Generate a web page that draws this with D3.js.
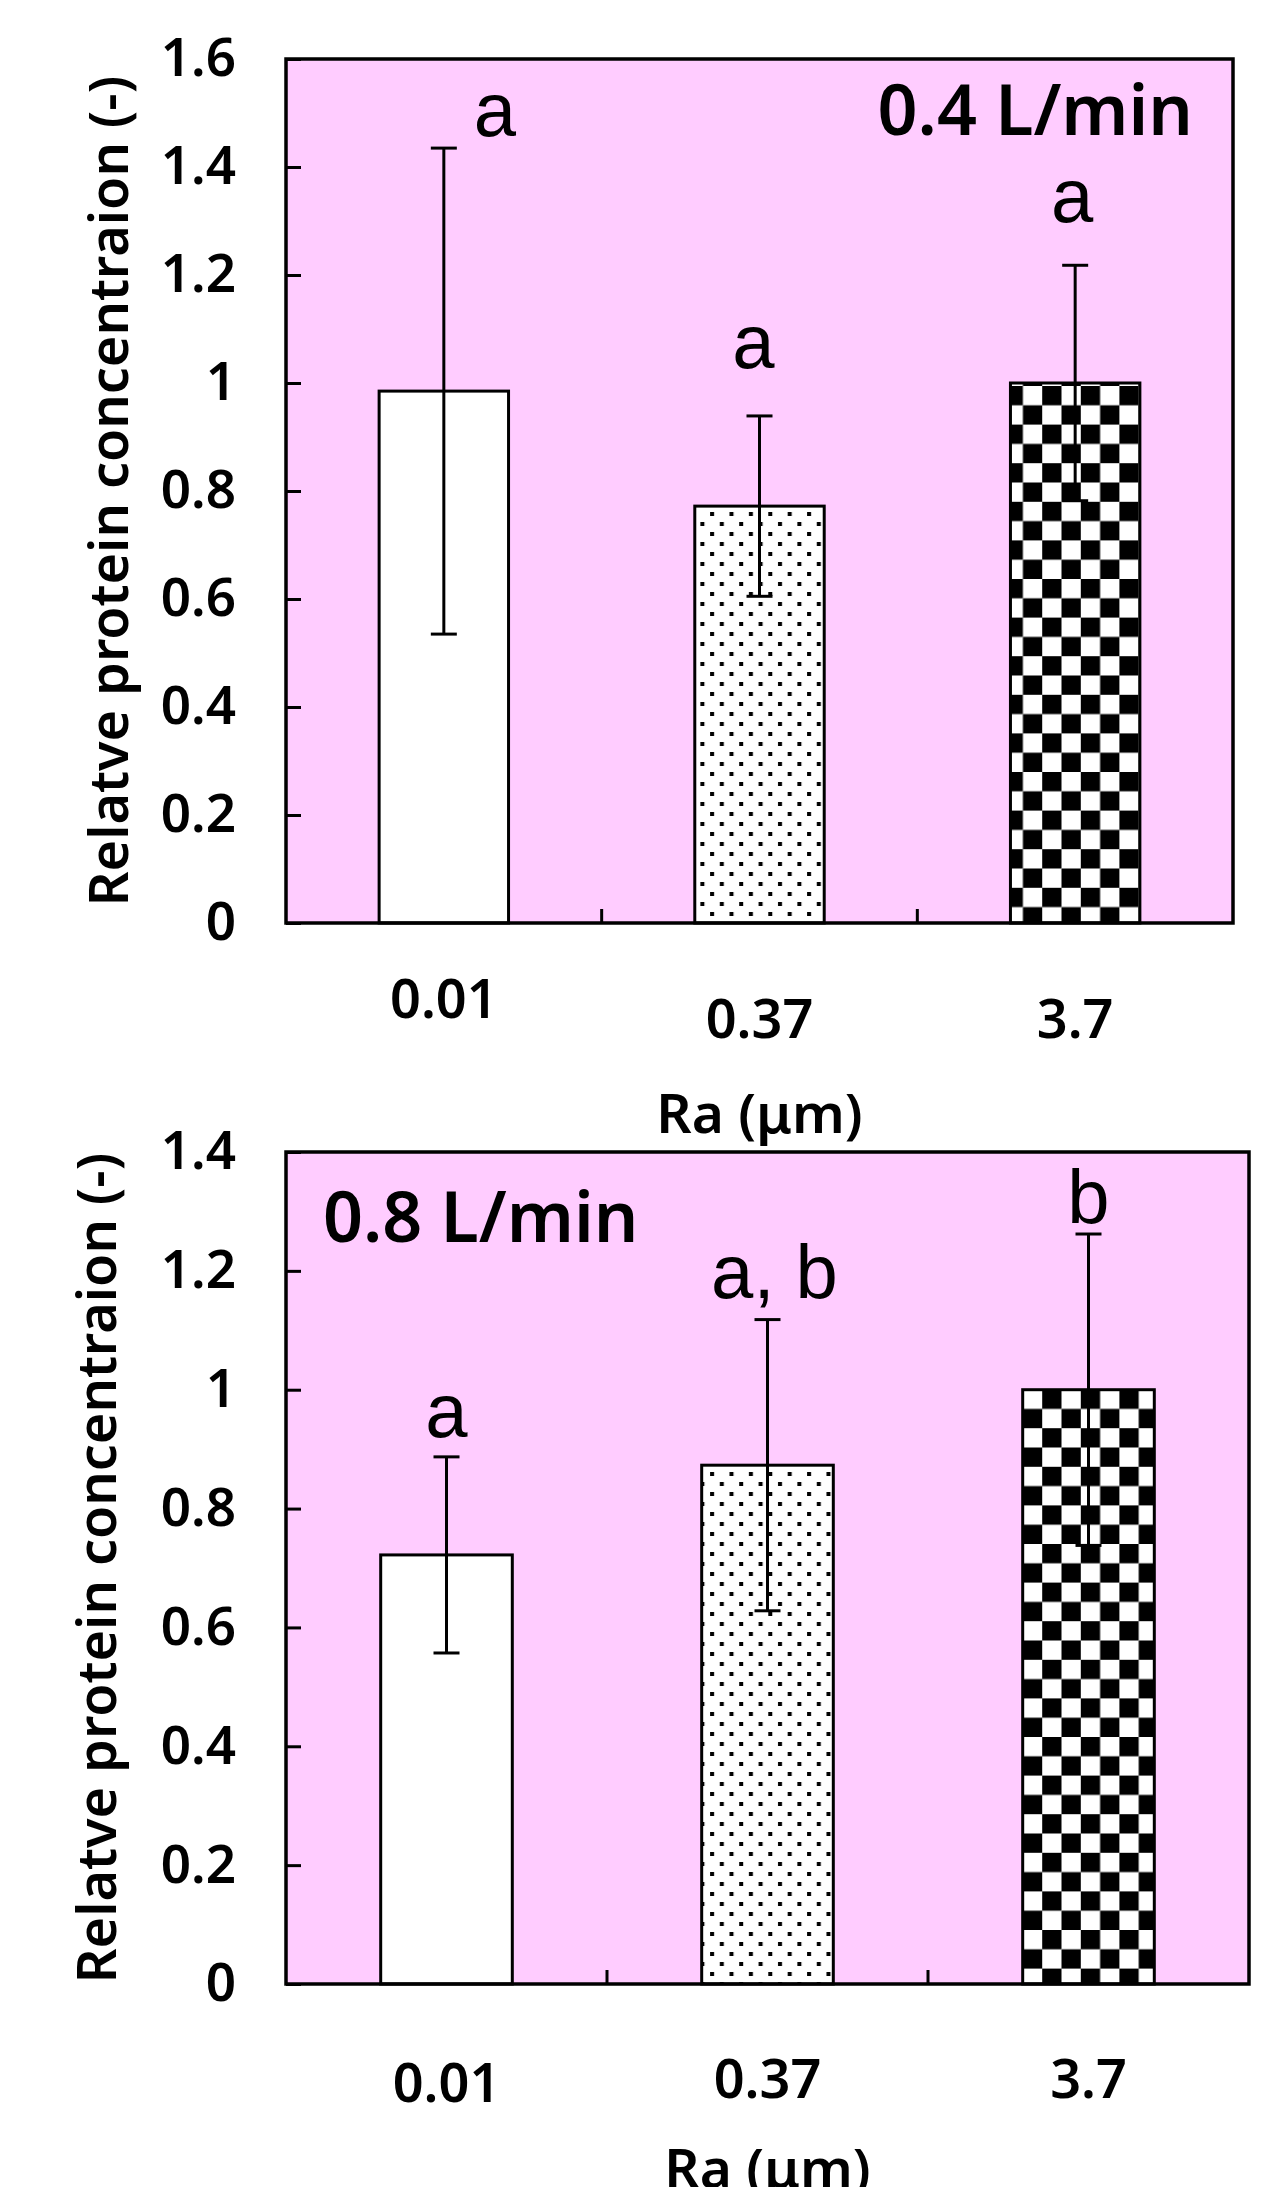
<!DOCTYPE html>
<html lang="en">
<head>
  <meta charset="UTF-8">
  <title>Relative protein concentration</title>
  <script src="https://cdn.jsdelivr.net/npm/d3@7"></script>
  <style>
    body { margin: 0; background: white; }
    svg { display: block; }
    .tick text { font-family: "Noto Sans", "Noto Sans CJK JP", sans-serif; font-weight: 600; }
  </style>
</head>
<body>
  <div id="chart"></div>
  <script>
    // data
    const categories = ["0.01", "0.37", "3.7"]
    const fills = ["white", "url(#dots)", "url(#checker)"]

    const means04 = [0.985, 0.772, 1.0]
    const errs04 = [0.45, 0.167, 0.218]
    const letters04 = ["a", "a", "a"]
    const letterAt04 = [1.457, 1.028, 1.298]
    const yTicks04 = [0, 0.2, 0.4, 0.6, 0.8, 1, 1.2, 1.4, 1.6]

    const means08 = [0.722, 0.873, 1.0]
    const errs08 = [0.165, 0.245, 0.262]
    const letters08 = ["a", "a, b", "b"]
    const letterAt08 = [0.92, 1.154, 1.281]
    const yTicks08 = [0, 0.2, 0.4, 0.6, 0.8, 1, 1.2, 1.4]

    const width = 1261
    const height = 2187
    const sans = '"Noto Sans", "Noto Sans CJK JP", sans-serif'
    const latin = '"Liberation Sans", Arial, sans-serif'
    const pink = '#ffccff'

    const svg = d3.select('#chart')
      .append('svg')
      .attr('width', width)
      .attr('height', height)

    svg.append('rect')
      .attr('width', width)
      .attr('height', height)
      .attr('fill', 'white')

    // fill patterns
    const defs = svg.append('defs')
    const dots = defs.append('pattern')
      .attr('id', 'dots')
      .attr('patternUnits', 'userSpaceOnUse')
      .attr('width', 19.4)
      .attr('height', 20)
    dots.append('rect').attr('width', 19.4).attr('height', 20).attr('fill', 'white')
    dots.append('rect').attr('x', 2).attr('y', 2).attr('width', 4).attr('height', 4).attr('fill', 'black')
    dots.append('rect').attr('x', 11.7).attr('y', 12).attr('width', 4).attr('height', 4).attr('fill', 'black')

    const cell = 19.3
    const checker = defs.append('pattern')
      .attr('id', 'checker')
      .attr('patternUnits', 'userSpaceOnUse')
      .attr('width', cell * 2)
      .attr('height', cell * 2)
    checker.append('rect').attr('width', cell * 2).attr('height', cell * 2).attr('fill', 'white')
    checker.append('rect').attr('width', cell).attr('height', cell).attr('fill', 'black')
    checker.append('rect').attr('x', cell).attr('y', cell).attr('width', cell).attr('height', cell).attr('fill', 'black')

    function drawPanel(p) {
      const g = svg.append('g')

      const x = d3.scaleBand()
        .domain(categories)
        .range([p.left, p.right])
        .paddingInner(0.59)
        .paddingOuter(0.295)
      const y = d3.scaleLinear()
        .domain([0, d3.max(p.ticks)])
        .range([p.bottom, p.top])

      const rows = categories.map((c, i) => ({
        cat: c, mean: p.means[i], err: p.errs[i], letter: p.letters[i],
        letterAt: p.letterAt[i], fill: fills[i], i: i
      }))

      g.append('rect')
        .attr('x', p.left)
        .attr('y', p.top)
        .attr('width', p.right - p.left)
        .attr('height', p.bottom - p.top)
        .attr('fill', pink)

      g.selectAll('.bar')
        .data(rows)
        .enter()
        .append('rect')
        .attr('class', 'bar')
        .attr('x', d => x(d.cat))
        .attr('y', d => y(d.mean))
        .attr('width', x.bandwidth())
        .attr('height', d => y(0) - y(d.mean))
        .attr('fill', d => d.fill)
        .attr('stroke', 'black')
        .attr('stroke-width', 3)

      // error bars
      const cx = d => x(d.cat) + x.bandwidth() / 2
      const eb = g.selectAll('.err')
        .data(rows)
        .enter()
        .append('g')
        .attr('class', 'err')
        .attr('stroke', 'black')
        .attr('stroke-width', 3)
      eb.append('line')
        .attr('x1', cx).attr('x2', cx)
        .attr('y1', d => y(d.mean - d.err))
        .attr('y2', d => y(d.mean + d.err))
      eb.append('line')
        .attr('x1', d => cx(d) - 13).attr('x2', d => cx(d) + 13)
        .attr('y1', d => y(d.mean + d.err))
        .attr('y2', d => y(d.mean + d.err))
      eb.append('line')
        .attr('x1', d => cx(d) - 13).attr('x2', d => cx(d) + 13)
        .attr('y1', d => y(d.mean - d.err))
        .attr('y2', d => y(d.mean - d.err))

      // significance letters
      g.selectAll('.letter')
        .data(rows)
        .enter()
        .append('text')
        .attr('class', 'letter')
        .attr('x', d => cx(d) + p.letterDx[d.i])
        .attr('y', d => y(d.letterAt))
        .attr('text-anchor', 'middle')
        .style('font-family', latin)
        .style('font-size', '76px')
        .text(d => d.letter)

      // frame
      g.append('rect')
        .attr('x', p.left)
        .attr('y', p.top)
        .attr('width', p.right - p.left)
        .attr('height', p.bottom - p.top)
        .attr('fill', 'none')
        .attr('stroke', 'black')
        .attr('stroke-width', 3.5)

      const yAxis = d3.axisLeft(y)
        .tickValues(p.ticks)
        .tickSizeInner(-15)
        .tickSizeOuter(0)
        .tickPadding(50)
        .tickFormat(d => String(+d.toFixed(1)))

      const ya = g.append('g')
        .attr('transform', `translate(${p.left}, 0)`)
        .call(yAxis)
      ya.select('.domain').remove()
      ya.selectAll('line').attr('stroke-width', 3)
      ya.selectAll('text').style('font-size', '53px').attr('fill', 'black')

      // x ticks sit between the categories
      const step = x.step()
      g.selectAll('.xtick')
        .data(categories.slice(1))
        .enter()
        .append('line')
        .attr('class', 'xtick')
        .attr('x1', d => x(d) - step * 0.295)
        .attr('x2', d => x(d) - step * 0.295)
        .attr('y1', p.bottom)
        .attr('y2', p.bottom - 14)
        .attr('stroke', 'black')
        .attr('stroke-width', 3)

      g.selectAll('.xlabel')
        .data(rows)
        .enter()
        .append('text')
        .attr('class', 'xlabel')
        .attr('x', cx)
        .attr('y', d => p.bottom + p.labelDy[d.i])
        .attr('text-anchor', 'middle')
        .style('font-family', sans)
        .style('font-weight', 600)
        .style('font-size', '54px')
        .text(d => d.cat)

      g.append('text')
        .attr('x', (p.left + p.right) / 2)
        .attr('y', p.xTitleY)
        .attr('text-anchor', 'middle')
        .style('font-family', sans)
        .style('font-weight', 600)
        .style('font-size', '55px')
        .text('Ra (μm)')

      g.append('text')
        .attr('transform', `translate(${p.yTitleX}, ${(p.top + p.bottom) / 2}) rotate(-90)`)
        .attr('text-anchor', 'middle')
        .style('font-family', sans)
        .style('font-weight', 600)
        .style('font-size', '54px')
        .text('Relatve protein concentraion (-)')

      g.append('text')
        .attr('x', p.flowX)
        .attr('y', p.flowY)
        .attr('text-anchor', p.flowAnchor)
        .style('font-family', sans)
        .style('font-weight', 600)
        .style('font-size', '70px')
        .text(p.flow)
    }

    drawPanel({
      left: 286, right: 1233, top: 59, bottom: 923,
      means: means04, errs: errs04, letters: letters04, letterAt: letterAt04,
      ticks: yTicks04, letterDx: [51, -6, -3], labelDy: [95, 115, 115],
      xTitleY: 1133, yTitleX: 128,
      flow: '0.4 L/min', flowX: 1193, flowY: 135, flowAnchor: 'end'
    })

    drawPanel({
      left: 286, right: 1249, top: 1152, bottom: 1984,
      means: means08, errs: errs08, letters: letters08, letterAt: letterAt08,
      ticks: yTicks08, letterDx: [0, 7, 0], labelDy: [118, 114, 114],
      xTitleY: 2188, yTitleX: 116,
      flow: '0.8 L/min', flowX: 323, flowY: 1242, flowAnchor: 'start'
    })
  </script>
</body>
</html>
